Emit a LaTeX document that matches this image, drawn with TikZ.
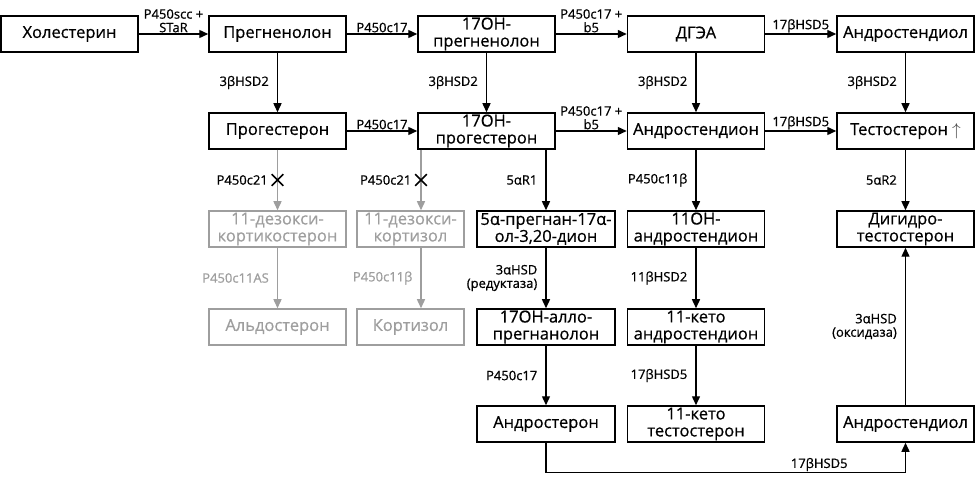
\documentclass[tikz,border=0pt]{standalone}
\usepackage{fontspec}
\setmainfont{Open Sans}
\usetikzlibrary{arrows.meta,shapes.misc}
\definecolor{faded}{gray}{0.62}
\newcommand\boxfont{\fontsize{16.5}{17}\selectfont\addfontfeature{FakeBold=0.6}}
\newcommand\labfont{\fontsize{13}{13.5}\selectfont\addfontfeature{FakeBold=0.8}}

\begin{document}
\begin{tikzpicture}[x=1pt,y=-1pt,>={Triangle[length=9pt,width=8pt]},
    box/.style={draw,line width=1.5pt,minimum width=137pt,minimum height=36pt,inner sep=1pt,align=center,font=\boxfont},
    dim/.style={draw=faded,text=faded},
    lab/.style={inner sep=1pt,align=right,font=\labfont},
    ar/.style={->,line width=1.4pt},
    xmark/.style={draw=black,cross out,minimum size=10pt,inner sep=0pt,line width=1.6pt}]
        \useasboundingbox (0,0) rectangle (975,478);
        \node[box] (chol) at (69.5,34) {Холестерин};
        \node[box] (preg) at (277.5,34) {Прегненолон};
        \node[box] (ohpreg) at (486.5,34) {17OH-\\прегненолон};
        \node[box] (dhea) at (696,34) {ДГЭА};
        \node[box] (adiol) at (905.5,34) {Андростендиол};
        \node[box] (prog) at (277.5,131) {Прогестерон};
        \node[box] (ohprog) at (486.5,131) {17OH-\\прогестерон};
        \node[box] (adione) at (696,131) {Андростендион};
        \node[box] (testo) at (905.5,131) {Тестостерон {\color{darkgray}$\uparrow$}};
        \node[box,dim] (doc) at (277.5,229) {11-дезокси-\\кортикостерон};
        \node[box,dim,minimum width=107pt] (dcort) at (410.5,229) {11-дезокси-\\кортизол};
        \node[box,minimum width=138pt] (pdione) at (546,229) {5α-прегнан-17α-\\ол-3,20-дион};
        \node[box] (ohad) at (696,229) {11OH-\\андростендион};
        \node[box] (dht) at (905.5,229) {Дигидро-\\тестостерон};
        \node[box,dim] (aldo) at (277.5,327) {Альдостерон};
        \node[box,dim,minimum width=107pt] (cort) at (410.5,327) {Кортизол};
        \node[box,minimum width=138pt] (allo) at (546,327) {17OH-алло-\\прегнанолон};
        \node[box] (ketoad) at (696,327) {11-кето\\андростендион};
        \node[box,minimum width=138pt] (andro) at (546,424) {Андростерон};
        \node[box] (ketot) at (696,424) {11-кето\\тестостерон};
        \node[box] (adiol2) at (905.5,424) {Андростендиол};
        \coordinate (gx) at (421,0);
        \draw[ar] (chol) -- node[lab,above,align=center] {P450scc +\\STaR} (preg);
        \draw[ar] (preg) -- node[lab,above] {P450c17} (ohpreg);
        \draw[ar] (ohpreg) -- node[lab,above,align=center] {P450c17 +\\b5} (dhea);
        \draw[ar] (dhea) -- node[lab,above] {17βHSD5} (adiol);
        \draw[ar] (prog) -- node[lab,above] {P450c17} (ohprog);
        \draw[ar] (ohprog) -- node[lab,above,align=center] {P450c17 +\\b5} (adione);
        \draw[ar] (adione) -- node[lab,above] {17βHSD5} (testo);
        \draw[ar] (preg) -- node[lab,left=7pt] {3βHSD2} (prog);
        \draw[ar] (ohpreg) -- node[lab,left=7pt] {3βHSD2} (ohprog);
        \draw[ar] (dhea) -- node[lab,left=7pt] {3βHSD2} (adione);
        \draw[ar] (adiol) -- node[lab,left=7pt] {3βHSD2} (testo);
        \draw[ar,faded] (prog) -- node[xmark] {} node[lab,left=8pt,text=black] {P450c21} (doc);
        \draw[ar,faded] (ohprog.south -| gx) -- node[xmark] {} node[lab,left=8pt,text=black] {P450c21} (dcort.north -| gx);
        \draw[ar] (ohprog.south -| pdione) -- node[lab,left=7pt] {5αR1} (pdione);
        \draw[ar] (adione) -- node[lab,left=7pt] {P450c11β} (ohad);
        \draw[ar] (testo) -- node[lab,left=7pt] {5αR2} (dht);
        \draw[ar,faded] (doc) -- node[lab,left=7pt] {P450c11AS} (aldo);
        \draw[ar,faded] (dcort.south -| gx) -- node[lab,left=7pt] {P450c11β} (cort.north -| gx);
        \draw[ar] (pdione) -- node[lab,left=7pt] {3αHSD\\(редуктаза)} (allo);
        \draw[ar] (ohad) -- node[lab,left=7pt] {11βHSD2} (ketoad);
        \draw[ar] (allo) -- node[lab,left=7pt] {P450c17} (andro);
        \draw[ar] (ketoad) -- node[lab,left=7pt] {17βHSD5} (ketot);
        \draw[ar] (adiol2) -- node[lab,left=7pt] {3αHSD\\(оксидаза)} (dht);
        \draw[ar] (andro.south) -- ++(0,30) -| node[lab,above,pos=0.38] {17βHSD5} (adiol2);
    \end{tikzpicture}
\end{document}
